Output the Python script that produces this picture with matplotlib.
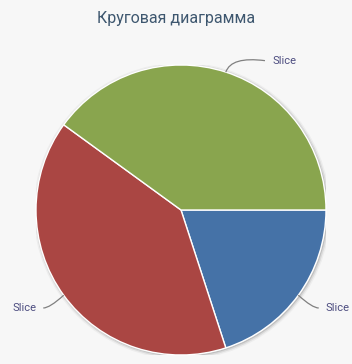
import matplotlib.pyplot as plt
import matplotlib.patches as patches
from matplotlib.path import Path
import numpy as np

title = 'Круговая диаграмма'
labels = ['Slice', 'Slice', 'Slice']
values = [20, 40, 40]
colors = ['#4572A7', '#AA4643', '#89A54E']

W, H = 352, 364
fig = plt.figure(figsize=(W / 100, H / 100), dpi=100)
fig.patch.set_facecolor('#f7f7f7')

# pie: center (181, 210) px, radius 145 px
cx, cy, r = 181, 210, 145
ax = fig.add_axes([(cx - r) / W, (H - cy - r) / H, 2 * r / W, 2 * r / H])
ax.set_xlim(-1, 1)
ax.set_ylim(-1, 1)
ax.set_aspect('equal')
ax.axis('off')

# тень вокруг круга
px = 1 / r
for lw, a in [(5, 0.04), (3, 0.08), (1, 0.12)]:
    ax.add_patch(patches.Circle((px, -px), 1, facecolor='none', edgecolor='black',
                                linewidth=lw, alpha=a, zorder=0))

wedges, _ = ax.pie(values, colors=colors, startangle=0, counterclock=False, radius=1,
                   wedgeprops=dict(edgecolor='white', linewidth=1), frame=False)
ax.set_xlim(-1, 1)
ax.set_ylim(-1, 1)

R = 1 + 30 / r
for w, lab in zip(wedges, labels):
    th = np.deg2rad((w.theta1 + w.theta2) / 2)
    s = np.sign(np.cos(th))
    # верхние подписи прижаты к области графика
    y = min(1.15 * np.sin(th), 1.03)
    x = s * np.sqrt(R ** 2 - y ** 2)
    start = (np.cos(th), np.sin(th))
    ctrl = (1.12 * np.cos(th), y + (0.03 if y > 1 else 0))
    end = (x - 0.05 * s, y)
    path = Path([start, ctrl, end], [Path.MOVETO, Path.CURVE3, Path.CURVE3])
    ax.add_patch(patches.PathPatch(path, facecolor='none', edgecolor='#808080',
                                   linewidth=0.9, clip_on=False))
    ax.text(x, y, lab, ha='left' if s > 0 else 'right', va='center',
            fontsize=8, color='#4d4d80', family='Roboto', clip_on=False)

fig.text(0.5, 1 - 18 / H, title, ha='center', va='center', fontsize=11.5,
         color='#3E576F', family='Roboto')

fig.savefig('out.png', dpi=100, facecolor=fig.get_facecolor())
